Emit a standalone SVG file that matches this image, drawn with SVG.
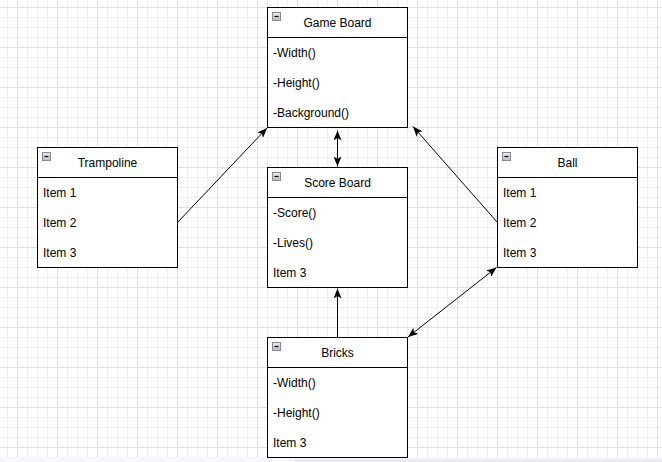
<svg xmlns="http://www.w3.org/2000/svg" width="662" height="462" viewBox="0 0 662 462">
<style>
.box{fill:#ffffff;stroke:#000000;stroke-width:1}
.sep{stroke:#000000;stroke-width:1;fill:none}
.title{font-family:"Liberation Sans",Arial,sans-serif;font-size:12px;fill:#000000;text-anchor:middle}
.item{font-family:"Liberation Sans",Arial,sans-serif;font-size:12px;fill:#000000}
.icon{fill:url(#ig);stroke:#8a8a8a;stroke-width:1}
.minus{stroke:#000000;stroke-width:1.2}
.edge{stroke:#000000;stroke-width:1;fill:none}
</style>
<defs>
<pattern id="grid" x="17" y="7" width="40" height="40" patternUnits="userSpaceOnUse">
<path d="M10.5,0V40M20.5,0V40M30.5,0V40M0,10.5H40M0,20.5H40M0,30.5H40" stroke="#f0f0f0" stroke-width="1" fill="none"/>
<path d="M0.5,0V40M0,0.5H40" stroke="#e0e0e0" stroke-width="1" fill="none"/>
</pattern>
<linearGradient id="ig" x1="0" y1="0" x2="0" y2="1">
<stop offset="0" stop-color="#e8ebf0"/>
<stop offset="1" stop-color="#b8bcc4"/>
</linearGradient>
<marker id="arr" viewBox="0 0 10 8" refX="10" refY="4" markerWidth="10" markerHeight="8" markerUnits="userSpaceOnUse" orient="auto-start-reverse">
<path d="M0,0 L10,4 L0,8 L2.5,4 z" fill="#000000"/>
</marker>
</defs>
<rect x="0" y="0" width="662" height="462" fill="#ffffff"/>
<rect x="0" y="0" width="662" height="457" fill="url(#grid)"/>
<rect x="0" y="457" width="662" height="5" fill="#f6f7f8"/>
<rect x="295" y="459.5" width="367" height="2.5" fill="#e9eaec"/>

<g id="connectors">
<line class="edge" x1="177.5" y1="222.5" x2="267" y2="128" marker-end="url(#arr)"/>
<line class="edge" x1="497.5" y1="222.5" x2="413" y2="126.5" marker-end="url(#arr)"/>
<line class="edge" x1="337.5" y1="130.5" x2="337.5" y2="166.5" marker-start="url(#arr)" marker-end="url(#arr)"/>
<line class="edge" x1="337.5" y1="337.5" x2="337.5" y2="288.5" marker-end="url(#arr)"/>
<line class="edge" x1="496.5" y1="267.5" x2="408" y2="337" marker-start="url(#arr)" marker-end="url(#arr)"/>
</g>

<g id="game-board">
<rect class="box" x="267.5" y="7.5" width="140" height="120"/>
<path class="sep" d="M267.5,37.5H407.5"/>
<rect class="icon" x="272.5" y="12.5" width="8" height="8"/>
<path class="minus" d="M274.5,16.5H278.5"/>
<text class="title" x="337.5" y="26.5">Game Board</text>
<text class="item" x="273" y="56.5">-Width()</text>
<text class="item" x="273" y="86.5">-Height()</text>
<text class="item" x="273" y="116.5">-Background()</text>
</g>

<g id="trampoline">
<rect class="box" x="37.5" y="147.5" width="140" height="120"/>
<path class="sep" d="M37.5,177.5H177.5"/>
<rect class="icon" x="42.5" y="152.5" width="8" height="8"/>
<path class="minus" d="M44.5,156.5H48.5"/>
<text class="title" x="107.5" y="166.5">Trampoline</text>
<text class="item" x="43" y="196.5">Item 1</text>
<text class="item" x="43" y="226.5">Item 2</text>
<text class="item" x="43" y="256.5">Item 3</text>
</g>

<g id="score-board">
<rect class="box" x="267.5" y="167.5" width="140" height="120"/>
<path class="sep" d="M267.5,197.5H407.5"/>
<rect class="icon" x="272.5" y="172.5" width="8" height="8"/>
<path class="minus" d="M274.5,176.5H278.5"/>
<text class="title" x="337.5" y="186.5">Score Board</text>
<text class="item" x="273" y="216.5">-Score()</text>
<text class="item" x="273" y="246.5">-Lives()</text>
<text class="item" x="273" y="276.5">Item 3</text>
</g>

<g id="ball">
<rect class="box" x="497.5" y="147.5" width="140" height="120"/>
<path class="sep" d="M497.5,177.5H637.5"/>
<rect class="icon" x="502.5" y="152.5" width="8" height="8"/>
<path class="minus" d="M504.5,156.5H508.5"/>
<text class="title" x="567.5" y="166.5">Ball</text>
<text class="item" x="503" y="196.5">Item 1</text>
<text class="item" x="503" y="226.5">Item 2</text>
<text class="item" x="503" y="256.5">Item 3</text>
</g>

<g id="bricks">
<rect class="box" x="267.5" y="337.5" width="140" height="120"/>
<path class="sep" d="M267.5,367.5H407.5"/>
<rect class="icon" x="272.5" y="342.5" width="8" height="8"/>
<path class="minus" d="M274.5,346.5H278.5"/>
<text class="title" x="337.5" y="356.5">Bricks</text>
<text class="item" x="273" y="386.5">-Width()</text>
<text class="item" x="273" y="416.5">-Height()</text>
<text class="item" x="273" y="446.5">Item 3</text>
</g>
</svg>
